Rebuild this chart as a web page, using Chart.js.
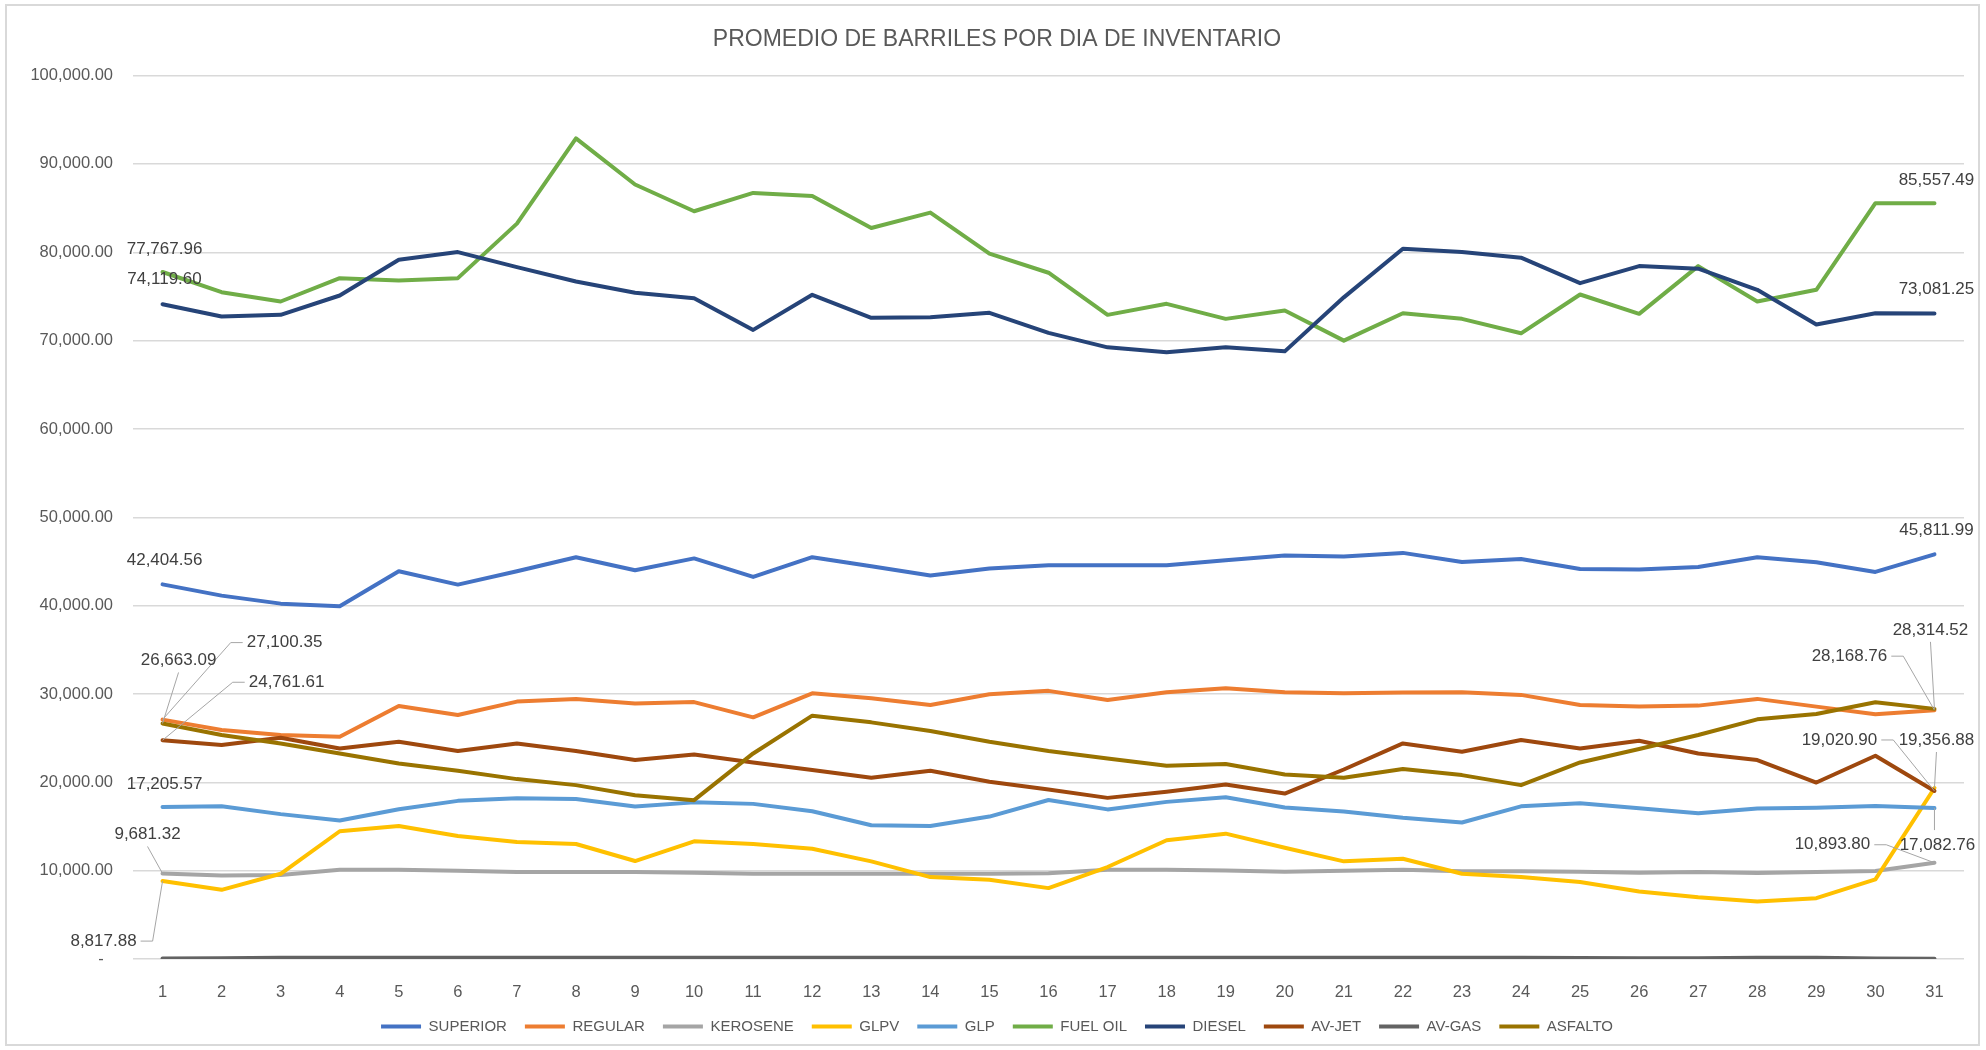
<!DOCTYPE html>
<html lang="es">
<head>
<meta charset="UTF-8">
<title>Promedio de barriles por día de inventario</title>
<script src="https://cdn.jsdelivr.net/npm/chart.js"></script>
<style>
  html, body { margin: 0; padding: 0; background: #fff; }
  canvas { display: block; }
</style>
</head>
<body>
<canvas id="grafico" width="1986" height="1050"></canvas>
<script>
// Días del mes (eje X)
const dias = [1, 2, 3, 4, 5, 6, 7, 8, 9, 10, 11, 12, 13, 14, 15, 16, 17, 18, 19, 20, 21, 22, 23, 24, 25, 26, 27, 28, 29, 30, 31];

const productos = ['SUPERIOR', 'REGULAR', 'KEROSENE', 'GLPV', 'GLP', 'FUEL OIL', 'DIESEL', 'AV-JET', 'AV-GAS', 'ASFALTO'];

// Barriles promedio por día
const superior = [42404.56, 41135, 40227, 39921, 43893, 42384, 43893, 45482, 44007, 45350, 43247, 45482, 44461, 43405, 44200, 44574, 44574, 44574, 45142, 45675, 45550, 45971, 44950, 45289, 44154, 44086, 44381, 45482, 44915, 43814, 45811.99];
const regular = [27100.35, 25925, 25357, 25165, 28649, 27627, 29137, 29444, 28910, 29080, 27355, 30079, 29512, 28763, 29966, 30352, 29330, 30193, 30647, 30193, 30079, 30159, 30193, 29898, 28763, 28570, 28683, 29444, 28570, 27696, 28168.76];
const kerosene = [9681.32, 9466, 9500, 10102, 10102, 9989, 9841, 9841, 9841, 9770, 9660, 9660, 9660, 9660, 9660, 9700, 10102, 10102, 10030, 9880, 9990, 10100, 9920, 9920, 9880, 9770, 9840, 9730, 9840, 9950, 10893.80];
const glpv = [8817.88, 7832, 9648, 14461, 15062, 13927, 13246, 13019, 11090, 13326, 13019, 12486, 11056, 9274, 8967, 8025, 10409, 13439, 14189, 12600, 11056, 11351, 9648, 9274, 8706, 7650, 7003, 6515, 6890, 9012, 19356.88];
const glp = [17205.57, 17298, 16400, 15670, 16958, 17900, 18200, 18100, 17260, 17730, 17560, 16731, 15142, 15062, 16120, 18000, 16935, 17786, 18300, 17160, 16700, 16000, 15450, 17280, 17630, 17060, 16500, 17026, 17120, 17333, 17082.76];
const fuelOil = [77767.96, 75482, 74427, 77071, 76810, 77071, 83246, 92895, 87673, 84642, 86720, 86379, 82747, 84495, 79841, 77684, 72917, 74166, 72463, 73405, 70000, 73100, 72463, 70829, 75221, 73030, 78434, 74427, 75755, 85560, 85557.49];
const diesel = [74119.60, 72724, 72917, 75108, 79160, 80023, 78320, 76697, 75414, 74801, 71214, 75187, 72577, 72645, 73144, 70874, 69240, 68672, 69240, 68785, 74900, 80408, 80023, 79387, 76504, 78434, 78139, 75755, 71816, 73100, 73081.25];
const avJet = [24761.61, 24222, 25051, 23837, 24597, 23541, 24404, 23541, 22520, 23156, 22248, 21385, 20511, 21305, 20057, 19183, 18240, 18921, 19750, 18729, 21450, 24404, 23462, 24790, 23837, 24711, 23269, 22520, 19977, 23008, 19020.90];
const avGas = [50, 80, 150, 150, 150, 150, 150, 150, 150, 150, 150, 150, 150, 150, 150, 150, 150, 150, 150, 150, 150, 150, 150, 150, 120, 80, 80, 150, 150, 60, 40];
const asfalto = [26663.09, 25357, 24404, 23269, 22134, 21305, 20363, 19682, 18547, 17979, 23269, 27548, 26788, 25811, 24597, 23541, 22701, 21873, 22066, 20885, 20511, 21498, 20817, 19682, 22248, 23769, 25357, 27128, 27741, 29058, 28314.52];

const series = [superior, regular, kerosene, glpv, glp, fuelOil, diesel, avJet, avGas, asfalto];

const colores = ['#4472C4', '#ED7D31', '#A5A5A5', '#FFC000', '#5B9BD5', '#70AD47', '#264478', '#9E480E', '#636363', '#997300'];

// Etiquetas de datos: serie, índice, desplazamiento en px y lado donde llega la línea guía
const etiquetas = [
  {s: 0, i: 0, dx: 2, dy: -24, guia: null},
  {s: 0, i: 30, dx: 2, dy: -24, guia: null},
  {s: 5, i: 0, dx: 2, dy: -23, guia: null},
  {s: 5, i: 30, dx: 2, dy: -23, guia: null},
  {s: 6, i: 0, dx: 2, dy: -25, guia: null},
  {s: 6, i: 30, dx: 2, dy: -24, guia: null},
  {s: 4, i: 0, dx: 2, dy: -23, guia: null},
  {s: 1, i: 0, dx: 122, dy: -77, guia: 'izq'},
  {s: 9, i: 0, dx: 16, dy: -63, guia: 'abajo'},
  {s: 7, i: 0, dx: 124, dy: -58, guia: 'izq'},
  {s: 2, i: 0, dx: -15, dy: -39, guia: 'abajo'},
  {s: 3, i: 0, dx: -59, dy: 60, guia: 'der'},
  {s: 9, i: 30, dx: -4, dy: -79, guia: 'abajo'},
  {s: 1, i: 30, dx: -85, dy: -54, guia: 'der'},
  {s: 7, i: 30, dx: -95, dy: -51, guia: 'der'},
  {s: 3, i: 30, dx: 2, dy: -48, guia: 'abajo'},
  {s: 2, i: 30, dx: -102, dy: -18, guia: 'der'},
  {s: 4, i: 30, dx: 3, dy: 37, guia: 'arriba'}
];

const fuente = '"Liberation Sans", Arial, sans-serif';
Chart.defaults.font.family = fuente;

function formato(v) {
  return v.toLocaleString('en-US', {minimumFractionDigits: 2, maximumFractionDigits: 2});
}

const marco = {
  id: 'marco',
  beforeDraw(chart) {
    const ctx = chart.ctx;
    ctx.save();
    ctx.fillStyle = '#FFFFFF';
    ctx.fillRect(0, 0, chart.width, chart.height);
    ctx.strokeStyle = '#D9D9D9';
    ctx.lineWidth = 2;
    ctx.strokeRect(6, 5, 1973, 1040);
    ctx.restore();
  }
};

const rotulos = {
  id: 'rotulos',
  afterDatasetsDraw(chart) {
    const ctx = chart.ctx;
    ctx.save();
    ctx.font = '17px ' + fuente;
    ctx.textAlign = 'center';
    ctx.textBaseline = 'middle';
    etiquetas.forEach(e => {
      const pt = chart.getDatasetMeta(e.s).data[e.i];
      const texto = formato(series[e.s][e.i]);
      const cx = pt.x + e.dx, cy = pt.y + e.dy;
      const w = ctx.measureText(texto).width;
      ctx.strokeStyle = '#A6A6A6';
      ctx.lineWidth = 1;
      ctx.beginPath();
      if (e.guia === 'abajo') {
        ctx.moveTo(cx, cy + 12);
        ctx.lineTo(pt.x, pt.y);
      } else if (e.guia === 'arriba') {
        ctx.moveTo(pt.x, cy - 15);
        ctx.lineTo(pt.x, pt.y);
      } else if (e.guia === 'izq') {
        const xl = cx - w / 2 - 4;
        ctx.moveTo(xl, cy);
        ctx.lineTo(xl - 12, cy);
        ctx.lineTo(pt.x, pt.y);
      } else if (e.guia === 'der') {
        const xr = cx + w / 2 + 4;
        ctx.moveTo(xr, cy);
        ctx.lineTo(xr + 12, cy);
        ctx.lineTo(pt.x, pt.y);
      }
      if (e.guia) ctx.stroke();
      ctx.fillStyle = '#404040';
      ctx.fillText(texto, cx, cy);
    });
    ctx.restore();
  }
};

const ctx = document.getElementById('grafico').getContext('2d');
const grafico = new Chart(ctx, {
  type: 'line',
  data: {
    labels: dias,
    datasets: productos.map((p, k) => ({
      label: p,
      data: series[k],
      borderColor: colores[k],
      backgroundColor: colores[k],
      borderWidth: 4,
      borderJoinStyle: 'round',
      borderCapStyle: 'round',
      pointRadius: 0,
      pointHoverRadius: 0,
      pointBorderWidth: 4,
      pointBorderColor: colores[k],
      tension: 0,
      fill: false,
      order: -k
    }))
  },
  options: {
    responsive: false,
    animation: false,
    layout: { padding: { left: 30, right: 22, top: 0, bottom: 6 } },
    plugins: {
      title: {
        display: true,
        text: 'PROMEDIO DE BARRILES POR DIA DE INVENTARIO',
        color: '#595959',
        font: { size: 23, weight: 'normal' },
        padding: { top: 26, bottom: 22 }
      },
      legend: {
        position: 'bottom',
        labels: {
          usePointStyle: true,
          pointStyle: 'line',
          pointStyleWidth: 40,
          color: '#595959',
          font: { size: 15 },
          padding: 18,
          sort: (a, b) => a.datasetIndex - b.datasetIndex
        }
      },
      tooltip: { enabled: false }
    },
    scales: {
      x: {
        offset: true,
        grid: { display: false },
        border: { display: false },
        ticks: { color: '#595959', font: { size: 16.5 }, padding: 16 },
        afterFit: s => { s.height = 42; }
      },
      y: {
        min: 0,
        max: 100000,
        ticks: {
          stepSize: 10000,
          padding: 20,
          color: '#595959',
          font: { size: 16.5 },
          callback: v => v === 0 ? '-  ' : formato(v)
        },
        grid: { color: '#D9D9D9', lineWidth: 1.5, drawTicks: false },
        border: { display: false },
        afterFit: s => { s.width = 103; }
      }
    }
  },
  plugins: [marco, rotulos]
});
</script>
</body>
</html>
